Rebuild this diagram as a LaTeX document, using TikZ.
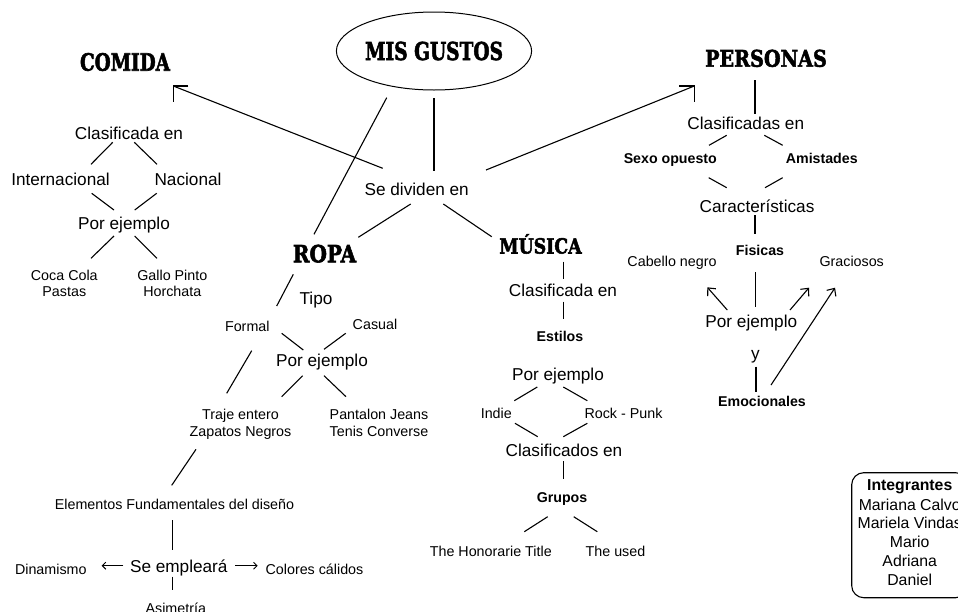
\documentclass[tikz,border=0pt]{standalone}
\usepackage{fontspec}
\usepackage{graphicx}
\setmainfont{Liberation Sans}
\newfontfamily\headfont{DejaVu Serif}[BoldFeatures={FakeBold=2.5}]
\usetikzlibrary{shapes.geometric,arrows.meta}
\newcommand\hdg[3]{\resizebox{#1pt}{#2pt}{\headfont\bfseries\smash{#3}\vphantom{M}}}
\begin{document}
\begin{tikzpicture}[x=1pt,y=-1pt,
  base/.style={anchor=base,inner sep=0pt},
  md/.style={base,font=\fontsize{17.2}{20}\selectfont},
  sm/.style={base,font=\fontsize{14.3}{17}\selectfont},
  bsm/.style={base,font=\fontsize{14.2}{17}\selectfont\bfseries},
  intg/.style={base,font=\fontsize{15.8}{19}\selectfont},
  ln/.style={line width=1.1pt},
  arr/.style={line width=1.1pt,-{Straight Barb[length=6pt,width=11pt,line width=1.1pt]}},
  sarr/.style={line width=0.9pt,-{Straight Barb[length=3.5pt,width=7pt,line width=0.9pt]}}]
\useasboundingbox (0,0) rectangle (958,611);
\fill[white] (0,0) rectangle (958,611);

% headings
\node[ellipse,draw,line width=1pt,minimum width=191pt,minimum height=78pt,inner sep=0pt] (gustos) at (434,51) {\hdg{138}{18}{MIS GUSTOS}};
\node[base] (comida) at (125,70.7) {\hdg{90}{17.4}{COMIDA}};
\node[base] (personas) at (766,66.7) {\hdg{121.7}{16.7}{PERSONAS}};
\node[base] (ropa) at (324.5,262.3) {\hdg{63.3}{17.3}{ROPA}};
\node[base] (musica) at (540.5,253.5) {\hdg{82.3}{15.2}{MÚSICA}};

\node[md] (sediv) at (416.7,195) {Se dividen en};

% centre connectors
\draw[ln] ([shift={(0,7.7)}]gustos.south) -- ([shift={(17.3,-24)}]sediv.base);
\draw[ln] ([shift={(-47.3,46.7)}]gustos.center) -- ([shift={(-10.5,-28)}]ropa.base);
\draw[ln] ([shift={(-34,-26.7)}]sediv.base) -- ([shift={(48.3,15.3)}]comida.base);
\draw[ln] ([shift={(63.3,15.3)}]comida.base) -- ([shift={(48.3,15.3)}]comida.base) -- ([shift={(48.3,31)}]comida.base);
\draw[ln] ([shift={(69.3,-25)}]sediv.base) -- ([shift={(-71.7,19.3)}]personas.base);
\draw[ln] ([shift={(-86.7,19.3)}]personas.base) -- ([shift={(-71.7,19.3)}]personas.base) -- ([shift={(-71.7,35)}]personas.base);
\draw[ln] ([shift={(-6,9)}]sediv.base) -- ([shift={(33.8,-25)}]ropa.base);
\draw[ln] ([shift={(26.6,9)}]sediv.base) -- ([shift={(-48.8,-16.8)}]musica.base);

% COMIDA
\node[md] (cclas) at (129,139) {Clasificada en};
\node[md] (cint) at (60.5,185) {Internacional};
\node[md] (cnac) at (188,185) {Nacional};
\node[md] (cpor) at (124,229) {Por ejemplo};
\node[sm] (ccoca) at (64.3,280) {Coca Cola};
\node[sm] (ccoca2) at (64.3,296.7) {Pastas};
\node[sm] (cgallo) at (172.3,280) {Gallo Pinto};
\node[sm] (cgallo2) at (172.3,296.7) {Horchata};
\draw[ln] ([shift={(-16.3,3.3)}]cclas.base) -- ([shift={(30.5,-20.7)}]cint.base);
\draw[ln] ([shift={(5.3,3.3)}]cclas.base) -- ([shift={(-31,-20.7)}]cnac.base);
\draw[ln] ([shift={(31.2,8.3)}]cint.base) -- ([shift={(-10,-19)}]cpor.base);
\draw[ln] ([shift={(-31.3,8.3)}]cnac.base) -- ([shift={(10.7,-19)}]cpor.base);
\draw[ln] ([shift={(-10,7)}]cpor.base) -- ([shift={(26.7,-21.7)}]ccoca.base);
\draw[ln] ([shift={(10.7,7)}]cpor.base) -- ([shift={(-15.3,-21.7)}]cgallo.base);

% ROPA
\node[md] (rtipo) at (316,304) {Tipo};
\node[sm] (rformal) at (247.3,331) {Formal};
\node[sm] (rcasual) at (375,329) {Casual};
\node[md] (rpor) at (322,366.7) {Por ejemplo};
\node[sm] (rtraje) at (240.5,419.3) {Traje entero};
\node[sm] (rtraje2) at (240.5,436) {Zapatos Negros};
\node[sm] (rpant) at (379,419.3) {Pantalon Jeans};
\node[sm] (rpant2) at (379,436) {Tenis Converse};
\node[sm] (relem) at (174.5,509.3) {Elementos Fundamentales del diseño};
\node[md] (remp) at (178.8,572.7) {Se empleará};
\node[sm] (rdin) at (50.8,574) {Dinamismo};
\node[sm] (rcol) at (314.5,574) {Colores cálidos};
\node[sm] (rasi) at (175.8,613) {Asimetría};
\draw[ln] ([shift={(-31.2,12)}]ropa.base) -- ([shift={(29.4,-25)}]rformal.base);
\draw[ln] ([shift={(34.4,2.3)}]rformal.base) -- ([shift={(-18.7,-16.7)}]rpor.base);
\draw[ln] ([shift={(-29.3,4.3)}]rcasual.base) -- ([shift={(2,-17.4)}]rpor.base);
\draw[ln] ([shift={(-19.3,9)}]rpor.base) -- ([shift={(41.2,-22.6)}]rtraje.base);
\draw[ln] ([shift={(2,9)}]rpor.base) -- ([shift={(-33,-22.6)}]rpant.base);
\draw[ln] ([shift={(4.4,19.7)}]rformal.base) -- ([shift={(-13.8,-26)}]rtraje.base);
\draw[ln] ([shift={(-44.5,13.3)}]rtraje2.base) -- ([shift={(-2.8,-24)}]relem.base);
\draw[ln] ([shift={(-1.8,10.7)}]relem.base) -- ([shift={(-6.1,-22.7)}]remp.base);
\draw[sarr] ([shift={(-55.5,-7)}]remp.base) -- ([shift={(50.9,-8.3)}]rdin.base);
\draw[sarr] ([shift={(56.2,-7)}]remp.base) -- ([shift={(-56.8,-8.3)}]rcol.base);
\draw[ln] ([shift={(-6.1,4)}]remp.base) -- ([shift={(-3.1,-23)}]rasi.base);

% MUSICA
\node[md] (mclas) at (563,296) {Clasificada en};
\node[bsm] (mest) at (560,341.7) {Estilos};
\node[md] (mpor) at (558,380) {Por ejemplo};
\node[sm] (mindie) at (496.3,418.3) {Indie};
\node[sm] (mrock) at (623.5,418.3) {Rock - Punk};
\node[md] (mclas2) at (564,456.7) {Clasificados en};
\node[bsm] (mgrup) at (562,502.7) {Grupos};
\node[sm] (mhon) at (490.8,556) {The Honorarie Title};
\node[sm] (mused) at (615.5,556) {The used};
\draw[ln] ([shift={(22.8,8.2)}]musica.base) -- ([shift={(0.3,-16.7)}]mclas.base);
\draw[ln] ([shift={(0.3,5.7)}]mclas.base) -- ([shift={(3.3,-22.7)}]mest.base);
\draw[ln] ([shift={(-20.7,7)}]mpor.base) -- ([shift={(18,-17.6)}]mindie.base);
\draw[ln] ([shift={(5.3,7)}]mpor.base) -- ([shift={(-36.2,-17.6)}]mrock.base);
\draw[ln] ([shift={(18.7,5)}]mindie.base) -- ([shift={(-26.3,-20)}]mclas2.base);
\draw[ln] ([shift={(-36.2,5)}]mrock.base) -- ([shift={(-0.7,-20)}]mclas2.base);
\draw[ln] ([shift={(-0.7,4.3)}]mclas2.base) -- ([shift={(1.3,-23.7)}]mgrup.base);
\draw[ln] ([shift={(-14.3,14)}]mgrup.base) -- ([shift={(33.5,-24.3)}]mhon.base);
\draw[ln] ([shift={(11.7,14)}]mgrup.base) -- ([shift={(-18.2,-24.3)}]mused.base);

% PERSONAS
\node[md] (pclas) at (745.8,129.3) {Clasificadas en};
\node[bsm] (psexo) at (670.3,163.3) {Sexo opuesto};
\node[bsm] (pamis) at (821.8,163.3) {Amistades};
\node[md] (pcar) at (757,212.7) {Características};
\node[bsm] (pfis) at (760,255.7) {Fisicas};
\node[sm] (pcab) at (672,266) {Cabello negro};
\node[sm] (pgrac) at (851.7,266) {Graciosos};
\node[md] (ppor) at (751.3,327.3) {Por ejemplo};
\node[md] (py) at (755.5,359.3) {y};
\node[bsm] (pemo) at (762,406.7) {Emocionales};
\draw[ln] ([shift={(-11,13.3)}]personas.base) -- ([shift={(9.2,-15)}]pclas.base);
\draw[ln] ([shift={(-19.1,6)}]pclas.base) -- ([shift={(38.7,-18)}]psexo.base);
\draw[ln] ([shift={(18.5,6)}]pclas.base) -- ([shift={(-39.1,-18)}]pamis.base);
\draw[ln] ([shift={(38.4,14.4)}]psexo.base) -- ([shift={(-30.3,-25)}]pcar.base);
\draw[ln] ([shift={(-39.1,14.4)}]pamis.base) -- ([shift={(8,-25)}]pcar.base);
\draw[ln] ([shift={(-2,2.3)}]pcar.base) -- ([shift={(-5,-21.4)}]pfis.base);
\draw[ln] ([shift={(-4.3,16.6)}]pfis.base) -- ([shift={(4.4,-20)}]ppor.base);
\draw[arr] ([shift={(-24,-17.3)}]ppor.base) -- ([shift={(35.3,21.3)}]pcab.base);
\draw[arr] ([shift={(38.7,-17.3)}]ppor.base) -- ([shift={(-42.7,21.7)}]pgrac.base);
\draw[arr] ([shift={(9,-21.7)}]pemo.base) -- ([shift={(-16.7,21.7)}]pgrac.base);
\draw[ln] ([shift={(0.5,7.4)}]py.base) -- ([shift={(-6,-14.4)}]pemo.base);

% Integrantes
\node[draw,line width=1.1pt,rounded corners=12pt,minimum width=116pt,minimum height=125pt,inner sep=0pt] (integ) at (909.7,535.2) {};
\node[intg,font=\fontsize{15.8}{19}\selectfont\bfseries] (i0) at (909.7,490.7) {Integrantes};
\node[intg] (i1) at (909.7,510) {Mariana Calvo};
\node[intg] (i2) at (909.7,528.7) {Mariela Vindas};
\node[intg] (i3) at (909.7,547.7) {Mario};
\node[intg] (i4) at (909.7,566.7) {Adriana};
\node[intg] (i5) at (909.7,585.7) {Daniel};
\end{tikzpicture}
\end{document}
